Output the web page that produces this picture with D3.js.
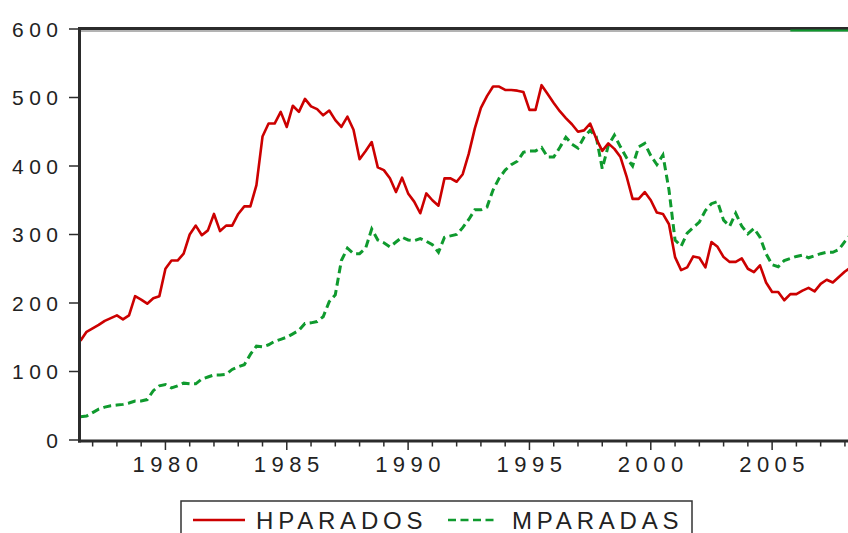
<!DOCTYPE html>
<html>
<head>
<meta charset="utf-8">
<script src="https://cdn.jsdelivr.net/npm/d3@7"></script>
<style>
  body { margin: 0; background: #fff; }
  svg { display: block; }
</style>
</head>
<body>
<svg id="chart" width="848" height="533"></svg>
<script>
// quarterly series, first observation 1976Q3
var firstYear = 1976, firstQuarter = 3;

var hparados = [145, 158, 163, 168, 174, 178, 182, 176, 182, 210,
  205, 199, 207, 210, 250, 262, 262, 272, 300, 313,
  299, 306, 330, 305, 313, 313, 330, 341, 341, 372,
  443, 462, 462, 479, 457, 488, 479, 498, 487, 483,
  474, 481, 467, 457, 472, 453, 410, 422, 435, 398,
  394, 382, 362, 383, 360, 348, 331, 360, 350, 342,
  382, 382, 377, 388, 418, 455, 485, 502, 516, 516,
  511, 511, 510, 508, 482, 482, 518, 505, 492, 480,
  470, 461, 450, 452, 462, 440, 422, 433, 425, 413,
  385, 352, 352, 362, 350, 332, 330, 315, 267, 248,
  252, 268, 266, 252, 289, 282, 267, 260, 260, 265,
  250, 245, 255, 230, 216, 216, 204, 213, 213, 218,
  222, 217, 228, 234, 230, 238, 246, 252];

var mparadas = [34, 35, 40, 45, 48, 50, 51, 52, 54, 57,
  57, 59, 72, 79, 81, 76, 79, 83, 82, 82,
  89, 92, 95, 95, 96, 103, 107, 110, 125, 137,
  136, 139, 144, 147, 150, 155, 160, 170, 171, 173,
  180, 202, 212, 262, 280, 272, 272, 280, 308, 292,
  288, 282, 289, 296, 292, 291, 294, 290, 285, 274,
  296, 298, 300, 310, 322, 336, 336, 340, 365, 382,
  394, 402, 407, 420, 422, 422, 427, 413, 413, 427,
  442, 432, 426, 442, 452, 443, 396, 430, 445, 428,
  412, 400, 428, 433, 415, 402, 416, 365, 292, 283,
  302, 310, 318, 335, 345, 348, 321, 312, 331, 312,
  301, 309, 296, 272, 256, 253, 262, 265, 268, 270,
  266, 269, 272, 274, 274, 278, 290, 300];

var yTicks = [0, 100, 200, 300, 400, 500, 600];
var xLabels = [1980, 1985, 1990, 1995, 2000, 2005];
var xYears = d3.range(1977, 2009);
var seriesNames = ["HPARADOS", "MPARADAS"];

var svg = d3.select("#chart");
var red = "#cc0000", green = "#0f9a2e", ink = "#2b2b2b";

var x = d3.scaleLinear().domain([1976.5, 2008.25]).range([80.5, 851]);
var y = d3.scaleLinear().domain([0, 600]).range([440, 29]);

function period(i) { return firstYear + (firstQuarter - 1) / 4 + i * 0.25; }

svg.append("defs").append("clipPath").attr("id", "plot")
  .append("rect").attr("x", 80).attr("y", 29).attr("width", 780).attr("height", 412);

var line = d3.line()
  .x(function(d, i) { return x(period(i)); })
  .y(function(d) { return y(d); });

var g = svg.append("g").attr("clip-path", "url(#plot)");
g.append("path").datum(mparadas)
  .attr("d", line).attr("fill", "none")
  .attr("stroke", green).attr("stroke-width", 3)
  .attr("stroke-dasharray", "8,4.5");
g.append("path").datum(hparados)
  .attr("d", line).attr("fill", "none")
  .attr("stroke", red).attr("stroke-width", 2.6)
  .attr("stroke-linejoin", "round");

// frame
svg.append("line").attr("x1", 78).attr("x2", 848).attr("y1", 28.5).attr("y2", 28.5)
  .attr("stroke", ink).attr("stroke-width", 3);
svg.append("line").attr("x1", 81).attr("x2", 848).attr("y1", 31).attr("y2", 31)
  .attr("stroke", "#9a9a9a").attr("stroke-width", 1.5);
svg.append("line").attr("x1", x(2005.75)).attr("x2", 848).attr("y1", 30.5).attr("y2", 30.5)
  .attr("stroke", green).attr("stroke-width", 2);
svg.append("line").attr("x1", 79.5).attr("x2", 79.5).attr("y1", 27).attr("y2", 442.5)
  .attr("stroke", ink).attr("stroke-width", 3);
svg.append("line").attr("x1", 78).attr("x2", 848).attr("y1", 441).attr("y2", 441)
  .attr("stroke", ink).attr("stroke-width", 3);

// y axis
var yAxis = svg.append("g");
yAxis.selectAll("line").data(yTicks).enter().append("line")
  .attr("x1", 69).attr("x2", 79)
  .attr("y1", function(d) { return y(d); }).attr("y2", function(d) { return y(d); })
  .attr("stroke", ink).attr("stroke-width", 1.5);
yAxis.selectAll("text").data(yTicks).enter().append("text")
  .attr("x", 63.5).attr("y", function(d) { return y(d); })
  .attr("dy", "0.36em").attr("text-anchor", "end")
  .style("font-family", "Liberation Sans, Arial, sans-serif")
  .style("font-size", "21px").style("letter-spacing", "5.5px")
  .attr("fill", "#222").text(function(d) { return d; });

// x axis
var xAxis = svg.append("g");
xAxis.selectAll("line").data(xYears).enter().append("line")
  .attr("x1", function(d) { return x(d); }).attr("x2", function(d) { return x(d); })
  .attr("y1", 442)
  .attr("y2", function(d) { return xLabels.indexOf(d) >= 0 ? 450 : 446.5; })
  .attr("stroke", ink).attr("stroke-width", 1.5);
xAxis.selectAll("text").data(xLabels).enter().append("text")
  .attr("x", function(d) { return x(d) + 2.5; }).attr("y", 472)
  .attr("text-anchor", "middle")
  .style("font-family", "Liberation Sans, Arial, sans-serif")
  .style("font-size", "22px").style("letter-spacing", "5.5px")
  .attr("fill", "#222").text(function(d) { return d; });

// legend
var lg = svg.append("g");
lg.append("rect").attr("x", 181).attr("y", 501).attr("width", 511).attr("height", 50)
  .attr("fill", "#fff").attr("stroke", "#333").attr("stroke-width", 1.5);
var items = [
  { name: seriesNames[0], color: red, dash: null, x0: 193, x1: 245, tx: 256 },
  { name: seriesNames[1], color: green, dash: "8,4.5", x0: 448, x1: 498, tx: 512 }
];
items.forEach(function(it) {
  lg.append("line").attr("x1", it.x0).attr("x2", it.x1).attr("y1", 520).attr("y2", 520)
    .attr("stroke", it.color).attr("stroke-width", 2.6)
    .attr("stroke-dasharray", it.dash);
  lg.append("text").attr("x", it.tx).attr("y", 528.5)
    .style("font-family", "Liberation Sans, Arial, sans-serif")
    .style("font-size", "24px").style("letter-spacing", "4.8px")
    .attr("fill", "#222").text(it.name);
});
</script>
</body>
</html>
